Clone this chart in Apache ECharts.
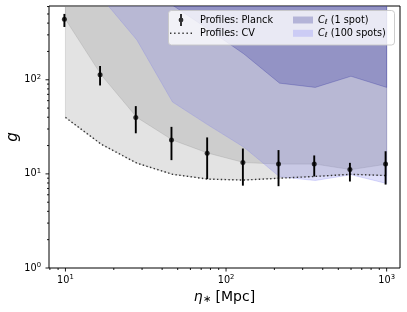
<!DOCTYPE html>
<html><head><meta charset="utf-8">
<script src="https://cdn.jsdelivr.net/npm/echarts@6/dist/echarts.min.js"></script>
<style>html,body{margin:0;padding:0;background:#fff}#c{width:407px;height:312px}</style>
</head><body><div id="c"></div>
<script>
// ---- data ----
const etaBand   = [10, 16.68, 27.83, 46.42, 77.43, 129.2, 215.4, 359.4, 599.5, 1000];
const etaPts    = [9.85, 16.43, 27.42, 45.73, 76.28, 127.3, 212.2, 354.1, 590.6, 985];
const planckG   = [439, 113, 39.8, 22.9, 16.6, 13.2, 12.7, 12.7, 11.1, 12.7];
const planckLo  = [364, 87, 27, 14, 8.8, 7.5, 7.4, 9.4, 8.3, 7.7];
const planckHi  = [501, 140, 52.5, 31.6, 24.4, 18.6, 17.9, 15.7, 13.1, 17.4];
const cvG       = [39.8, 20.7, 13.0, 9.9, 8.8, 8.6, 9.0, 9.4, 9.9, 9.6];
const spot100Lo = [3000, 750, 265, 58, 33, 19.2, 9.3, 8.5, 9.8, 7.9];
const spot1Lo   = [3000, 2000, 1200, 620, 345, 188, 92, 83, 109, 83];
const bandUp    = [10000, 10000, 10000, 10000, 10000, 10000, 10000, 10000, 10000, 10000];
const xMajorTicks = [10, 100, 1000];
const xMinorTicks = [8, 9, 20, 30, 40, 50, 60, 70, 80, 90, 200, 300, 400, 500, 600, 700, 800, 900];
const yMajorTicks = [1, 10, 100];
const yMinorTicks = [2, 3, 4, 5, 6, 7, 8, 9, 20, 30, 40, 50, 60, 70, 80, 90, 200, 300, 400, 500, 600];

const FONT = 'DejaVu Sans';
const chart = echarts.init(document.getElementById('c'));

function isPow10(v){ const l = Math.log10(v); return Math.abs(l - Math.round(l)) < 1e-6; }
function powLabel(v){ if (!isPow10(v)) return ''; return '{b|10}{s|' + Math.round(Math.log10(v)) + '}'; }
const tickRich = {
  b: {fontSize: 9.7, fontFamily: FONT, color: '#000'},
  s: {fontSize: 6.8, fontFamily: FONT, color: '#000', padding: [0, 0, 6, 0]}
};

function bandSeries(name, lo, hi, fill, z) {
  return {
    name: name, type: 'custom', coordinateSystem: 'cartesian2d', clip: true, z: z, silent: true,
    itemStyle: {color: fill},
    data: [[etaBand[0], lo[0]]],
    renderItem: function (params, api) {
      const pts = [];
      for (let i = 0; i < etaBand.length; i++) pts.push(api.coord([etaBand[i], lo[i]]));
      for (let i = etaBand.length - 1; i >= 0; i--) pts.push(api.coord([etaBand[i], hi[i]]));
      return {type: 'polygon', shape: {points: pts}, style: {fill: fill, stroke: fill, lineWidth: 1}};
    }
  };
}
function tickSeries(vals, axis, len) {
  return {
    type: 'custom', coordinateSystem: 'cartesian2d', silent: true, z: 10, clip: false,
    data: vals.map(v => axis === 'x' ? [v, 1] : [10, v]),
    renderItem: function (params, api) {
      const cs = params.coordSys;
      const p = api.coord([api.value(0), api.value(1)]);
      if (axis === 'x') {
        const y0 = cs.y + cs.height;
        return {type: 'line', shape: {x1: p[0], y1: y0, x2: p[0], y2: y0 + len}, style: {stroke: '#000', lineWidth: 0.9}};
      }
      const x0 = cs.x;
      return {type: 'line', shape: {x1: x0, y1: p[1], x2: x0 - len, y2: p[1]}, style: {stroke: '#000', lineWidth: 0.9}};
    }
  };
}

const ERR_ICON = 'path://M-1,-6 L1,-6 L1,6 L-1,6 Z M0,-2.4 A2.4,2.4 0 1 1 0,2.4 A2.4,2.4 0 1 1 0,-2.4 Z';
const DOT_ICON = 'path://M0,0h1.4v1.4h-1.4z M4.1,0h1.4v1.4h-1.4z M8.2,0h1.4v1.4h-1.4z M12.3,0h1.4v1.4h-1.4z M16.4,0h1.4v1.4h-1.4z M20.5,0h1.4v1.4h-1.4z';

chart.setOption({
  animation: false,
  backgroundColor: '#fff',
  grid: {left: 49, top: 6, width: 351, height: 262, outerBoundsMode: 'none', containLabel: false,
         show: true, borderColor: '#000', borderWidth: 1, backgroundColor: 'transparent'},
  xAxis: {
    type: 'log', logBase: 10, min: 7.9, max: 1211,
    axisLine: {show: false}, axisTick: {show: false}, splitLine: {show: false},
    axisLabel: {formatter: powLabel, rich: tickRich, margin: 6, color: '#000'},
    name: '{i|η}{s|∗} [Mpc]', nameLocation: 'middle', nameGap: 21,
    nameTextStyle: {fontSize: 14, fontFamily: FONT, color: '#000',
      rich: {i: {fontSize: 14, fontFamily: FONT, fontStyle: 'italic', color: '#000'},
             s: {fontSize: 10, fontFamily: FONT, color: '#000', padding: [5, 0, 0, 0]}}}
  },
  yAxis: {
    type: 'log', logBase: 10, min: 1, max: 608,
    axisLine: {show: false}, axisTick: {show: false}, splitLine: {show: false},
    axisLabel: {formatter: powLabel, rich: tickRich, margin: 8, color: '#000'},
    name: 'g', nameLocation: 'middle', nameGap: 28, nameMoveOverlap: false,
    nameTextStyle: {fontSize: 15, fontFamily: FONT, fontStyle: 'italic', color: '#000'}
  },
  legend: [
    {
      data: [{name: 'Profiles: Planck', icon: ERR_ICON}, {name: 'Profiles: CV', icon: DOT_ICON, itemStyle: {color: '#333'}}],
      orient: 'vertical', left: 170, top: 14, padding: 0, itemWidth: 22, itemHeight: 12, itemGap: 1.3,
      selectedMode: false, z: 6,
      textStyle: {fontSize: 9.7, fontFamily: FONT, color: '#000', lineHeight: 12, padding: [0, 0, 0, 3]}
    },
    {
      data: [{name: 'C_ℓ (1 spot)', icon: 'rect', itemStyle: {color: '#b4b4d8'}},
             {name: 'C_ℓ (100 spots)', icon: 'rect', itemStyle: {color: '#ccccf5'}}],
      orient: 'vertical', left: 293, top: 14, padding: 0, itemWidth: 20, itemHeight: 7, itemGap: 1.3,
      selectedMode: false, z: 6,
      formatter: function (n) { return n.replace('C_ℓ', '{c|C}{l|ℓ}'); },
      textStyle: {fontSize: 9.7, fontFamily: FONT, color: '#000', lineHeight: 12,
        rich: {c: {fontSize: 9.7, fontFamily: FONT, fontStyle: 'italic', color: '#000', lineHeight: 12},
               l: {fontSize: 7, fontFamily: FONT, fontStyle: 'italic', color: '#000', padding: [4, 0, 0, 0], lineHeight: 12}}}
    }
  ],
  graphic: {elements: [{
    type: 'rect', z: 5, silent: true,
    shape: {x: 168.5, y: 10.5, width: 226, height: 34.5, r: 3},
    style: {fill: 'rgba(255,255,255,0.8)', stroke: 'rgba(200,200,200,0.9)', lineWidth: 1}
  }]},
  series: [
    bandSeries('CV band', cvG, bandUp, 'rgba(128,128,128,0.22)', 1),
    bandSeries('Planck band', planckG, bandUp, 'rgba(128,128,128,0.22)', 1),
    bandSeries('C_ℓ (100 spots)', spot100Lo, bandUp, 'rgba(110,110,235,0.22)', 1),
    bandSeries('C_ℓ (1 spot)', spot1Lo, bandUp, 'rgba(0,0,139,0.2)', 1),
    {
      name: 'Profiles: CV', type: 'line', z: 3, symbol: 'none', silent: true,
      data: etaBand.map((x, i) => [x, cvG[i]]),
      lineStyle: {color: '#333', width: 1.4, type: [1.4, 2.4]}, itemStyle: {color: '#333'}
    },
    {
      name: 'Profiles: Planck', type: 'scatter', z: 5, symbol: 'circle', symbolSize: 5, silent: true,
      itemStyle: {color: '#000'},
      data: etaPts.map((x, i) => [x, planckG[i]])
    },
    {
      name: 'Planck errors', type: 'custom', coordinateSystem: 'cartesian2d', z: 4, silent: true,
      data: etaPts.map((x, i) => [x, planckG[i], planckLo[i], planckHi[i]]),
      renderItem: function (params, api) {
        const a = api.coord([api.value(0), api.value(2)]);
        const b = api.coord([api.value(0), api.value(3)]);
        return {type: 'line', shape: {x1: a[0], y1: a[1], x2: b[0], y2: b[1]}, style: {stroke: '#000', lineWidth: 1.9}};
      }
    },
    tickSeries(xMajorTicks, 'x', 3.5),
    tickSeries(xMinorTicks, 'x', 2),
    tickSeries(yMajorTicks, 'y', 3.5),
    tickSeries(yMinorTicks, 'y', 2)
  ]
});
</script></body></html>
